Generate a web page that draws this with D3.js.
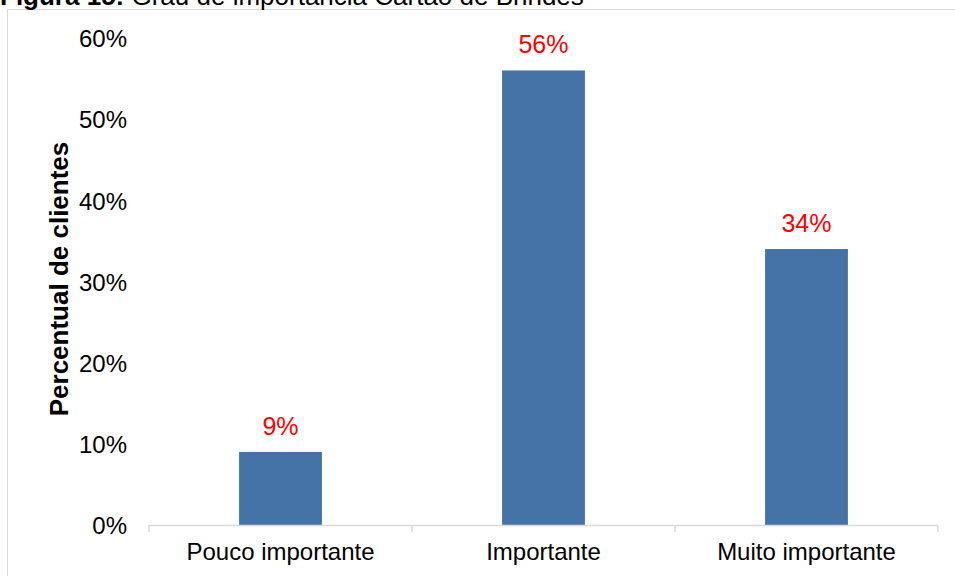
<!DOCTYPE html>
<html>
<head>
<meta charset="utf-8">
<script src="https://cdn.jsdelivr.net/npm/d3@7"></script>
<style>
  html, body { margin: 0; padding: 0; background: #fff; }
  svg { display: block; font-family: "Liberation Sans", Arial, sans-serif; }
</style>
</head>
<body>
<svg id="chart" width="955" height="576"></svg>
<script>
// Grau de importância atribuído ao Cartão de Brindes
const categories = ["Pouco importante", "Importante", "Muito importante"];
const values = [0.09, 0.56, 0.34];
const yTicks = [0, 0.1, 0.2, 0.3, 0.4, 0.5, 0.6];

const svg = d3.select("#chart");
const W = 955, H = 576;
const plot = { left: 149, right: 938, top: 38, bottom: 525 };

// Outer chart frame (extends past the page edges)
svg.append("rect")
  .attr("x", 7.5).attr("y", 9.5)
  .attr("width", W).attr("height", H)
  .attr("fill", "none").attr("stroke", "#D9D9D9").attr("stroke-width", 1);

// Caption line
const cap = svg.append("text").attr("x", 0).attr("y", 5)
  .attr("font-size", 26).attr("fill", "#000");
cap.append("tspan").attr("font-weight", "bold").text("Figura 15:");
cap.append("tspan").text(" Grau de importância Cartão de Brindes");

const x = d3.scaleBand().domain(categories)
  .range([plot.left, plot.right]).paddingInner(0.685).paddingOuter(0.3425);
const y = d3.scaleLinear().domain([0, 0.6]).range([plot.bottom, plot.top]);

// Y axis: labels only
const yAxis = d3.axisLeft(y).tickValues(yTicks)
  .tickFormat(d3.format(".0%")).tickSize(0).tickPadding(0);
const gy = svg.append("g").attr("transform", `translate(${plot.left - 22},1)`).call(yAxis);
gy.select(".domain").remove();
gy.selectAll("text").attr("font-size", 24).attr("fill", "#000")
  .attr("font-family", "Liberation Sans, Arial, sans-serif");

// Bars
svg.append("g").selectAll("rect").data(values).join("rect")
  .attr("x", (d, i) => x(categories[i]))
  .attr("y", d => y(d))
  .attr("width", x.bandwidth())
  .attr("height", d => y(0) - y(d))
  .attr("fill", "#4573A7");

// X axis with category boundary ticks
const step = x.step();
const gx = svg.append("g");
gx.append("line")
  .attr("x1", plot.left).attr("x2", plot.right)
  .attr("y1", plot.bottom + 0.5).attr("y2", plot.bottom + 0.5)
  .attr("stroke", "#D9D9D9").attr("stroke-width", 1.5);
const bounds = d3.range(categories.length + 1).map(i => plot.left + i * step);
gx.selectAll("line.tick").data(bounds).join("line")
  .attr("class", "tick")
  .attr("x1", d => d).attr("x2", d => d)
  .attr("y1", plot.bottom).attr("y2", plot.bottom + 7)
  .attr("stroke", "#D9D9D9").attr("stroke-width", 1.5);
gx.selectAll("text").data(categories).join("text")
  .attr("x", d => x(d) + x.bandwidth() / 2)
  .attr("y", plot.bottom + 35)
  .attr("text-anchor", "middle")
  .attr("font-size", 24).attr("fill", "#000")
  .text(d => d);

// Value labels
svg.append("g").selectAll("text").data(values).join("text")
  .attr("x", (d, i) => x(categories[i]) + x.bandwidth() / 2)
  .attr("y", d => y(d) - 17)
  .attr("text-anchor", "middle")
  .attr("font-size", 25).attr("fill", "#FF0000")
  .text(d => d3.format(".0%")(d));

// Y axis title
svg.append("text")
  .attr("transform", `translate(68,279) rotate(-90)`)
  .attr("text-anchor", "middle")
  .attr("font-size", 26).attr("font-weight", "bold").attr("fill", "#000")
  .text("Percentual de clientes");
</script>
</body>
</html>
